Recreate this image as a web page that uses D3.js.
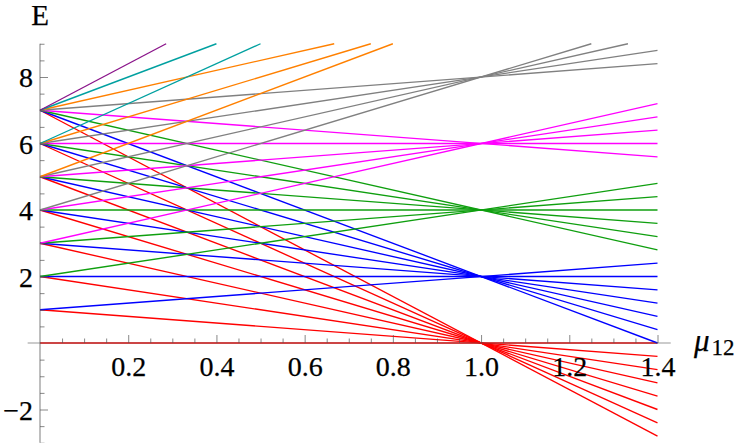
<!DOCTYPE html>
<html>
<head>
<meta charset="utf-8">
<script src="https://cdn.jsdelivr.net/npm/d3@7"></script>
<style>
  body { margin: 0; background: #fff; }
  svg text { font-family: "Liberation Serif", "DejaVu Serif", serif; fill: #000; }
</style>
</head>
<body>
<svg class="levels" width="748" height="443"></svg>
<script>
// Energy levels E against mu12: straight lines leaving integer levels at mu12 = 0,
// grouped by colour according to the node they meet at mu12 = 1.

// value of E at mu12 = 0 for each line, per colour group
var redStart = [0, 1, 2, 3, 4, 5, 6, 7],
    blueStart = [1, 2, 3, 4, 5, 6, 7],
    greenStart = [2, 3, 4, 5, 6, 7],
    magentaStart = [3, 4, 5, 6, 7],
    grayStart = [4, 5, 6, 7],
    orangeStart = [5, 6, 7],
    cyanStart = [6, 7],
    purpleStart = [7];

// where each line stops: mu12 of the end point and E there (top ones leave the frame at E = 9)
var redEndMu = [1.4, 1.4, 1.4, 1.4, 1.4, 1.4, 1.4, 1.4],
    redEndE = [0, -0.4, -0.8, -1.2, -1.6, -2.0, -2.4, -2.8];
var blueEndMu = [1.4, 1.4, 1.4, 1.4, 1.4, 1.4, 1.4],
    blueEndE = [2.4, 2.0, 1.6, 1.2, 0.8, 0.4, 0];
var greenEndMu = [1.4, 1.4, 1.4, 1.4, 1.4, 1.4],
    greenEndE = [4.8, 4.4, 4.0, 3.6, 3.2, 2.8];
var magentaEndMu = [1.4, 1.4, 1.4, 1.4, 1.4],
    magentaEndE = [7.2, 6.8, 6.4, 6.0, 5.6];
var grayEndMu = [1.25, 1.333, 1.4, 1.4],
    grayEndE = [9, 9, 8.8, 8.4];
var orangeEndMu = [0.8, 0.75, 0.667],
    orangeEndE = [9, 9, 9];
var cyanEndMu = [0.5, 0.4],
    cyanEndE = [9, 9];
var purpleEndMu = [0.286],
    purpleEndE = [9];

// tick labels
var xTickLabels = [0.2, 0.4, 0.6, 0.8, 1.0, 1.2, 1.4],
    yTickLabels = [-2, 2, 4, 6, 8];

//Colors
var colorRed = "#ff0000",
    colorBlue = "#0000ff",
    colorGreen = "#0f9f0f",
    colorMagenta = "#ff00ff",
    colorGray = "#808080",
    colorOrange = "#ff8000",
    colorCyan = "#00a0a0",
    colorPurple = "#8a148a",
    axisColor = "#555";

var groups = [
    {color: colorRed, start: redStart, endMu: redEndMu, endE: redEndE},
    {color: colorBlue, start: blueStart, endMu: blueEndMu, endE: blueEndE},
    {color: colorGreen, start: greenStart, endMu: greenEndMu, endE: greenEndE},
    {color: colorMagenta, start: magentaStart, endMu: magentaEndMu, endE: magentaEndE},
    {color: colorGray, start: grayStart, endMu: grayEndMu, endE: grayEndE},
    {color: colorOrange, start: orangeStart, endMu: orangeEndMu, endE: orangeEndE},
    {color: colorCyan, start: cyanStart, endMu: cyanEndMu, endE: cyanEndE},
    {color: colorPurple, start: purpleStart, endMu: purpleEndMu, endE: purpleEndE}
];

var svg = d3.select("svg.levels");

var x = d3.scaleLinear().domain([0, 1.4]).range([40, 657.5]);
var y = d3.scaleLinear().domain([-3, 9]).range([442.75, 43.75]);

var line = d3.line()
    .x(function(d) { return x(d[0]); })
    .y(function(d) { return y(d[1]); });

// the lines, one path per level
groups.forEach(function(g) {
    var segs = g.start.map(function(s, i) { return [[0, s], [g.endMu[i], g.endE[i]]]; });
    svg.append("g")
        .selectAll("path")
        .data(segs)
        .enter()
        .append("path")
        .attr("d", line)
        .attr("fill", "none")
        .attr("stroke", g.color)
        .attr("stroke-width", 1.35);
});

// minor tick positions
var xMinor = d3.range(1, 29).map(function(i) { return i * 0.05; })
    .filter(function(v) { return Math.abs(v * 5 - Math.round(v * 5)) > 1e-6; });
var yMinor = d3.range(-6, 19).map(function(i) { return i * 0.5; })
    .filter(function(v) { return v !== 0 && yTickLabels.indexOf(v) < 0; });

// x axis (ticks pointing up, crossing at E = 0)
var xAxisG = svg.append("g").attr("transform", "translate(0," + y(0) + ")");
xAxisG.append("g")
    .call(d3.axisBottom(x).tickValues(xMinor).tickSizeInner(-4.5).tickSizeOuter(0).tickFormat(""));
xAxisG.append("g")
    .call(d3.axisBottom(x).tickValues(xTickLabels).tickSizeInner(-8).tickSizeOuter(0)
        .tickPadding(13).tickFormat(d3.format(".1f")));

// y axis (ticks pointing right, crossing at mu12 = 0)
var yAxisG = svg.append("g").attr("transform", "translate(" + x(0) + ",0)");
yAxisG.append("g")
    .call(d3.axisLeft(y).tickValues(yMinor).tickSizeInner(-4.5).tickSizeOuter(0).tickFormat(""));
yAxisG.append("g")
    .call(d3.axisLeft(y).tickValues(yTickLabels).tickSizeInner(-8).tickSizeOuter(0)
        .tickPadding(7).tickFormat(function(d) { return d < 0 ? "\u2212" + (-d) : d; }));

svg.selectAll(".domain").remove();
svg.selectAll(".tick line").attr("stroke", axisColor).attr("stroke-opacity", 0.7);
svg.selectAll(".tick text")
    .attr("font-family", "Liberation Serif")
    .attr("font-size", 28)
    .attr("fill", "#000")
    .attr("stroke", "#000")
    .attr("stroke-width", 0.25);
yAxisG.selectAll(".tick text").attr("dy", "0.34em");

// axis lines, drawn over the curves like the original
svg.append("line")
    .attr("x1", x(-0.028)).attr("x2", x(1.43))
    .attr("y1", y(0)).attr("y2", y(0))
    .attr("stroke", axisColor).attr("stroke-opacity", 0.6).attr("stroke-width", 1.1);
svg.append("line")
    .attr("x1", x(0)).attr("x2", x(0))
    .attr("y1", y(-3)).attr("y2", y(9))
    .attr("stroke", axisColor).attr("stroke-opacity", 0.7).attr("stroke-width", 1.1);

// axis titles
svg.append("text")
    .attr("x", x(0)).attr("y", 25)
    .attr("text-anchor", "middle")
    .attr("font-size", 29)
    .attr("stroke", "#000").attr("stroke-width", 0.25)
    .text("E");

var muLabel = svg.append("text")
    .attr("x", 694).attr("y", 351)
    .attr("font-size", 31)
    .attr("stroke", "#000").attr("stroke-width", 0.25);
muLabel.append("tspan").attr("font-style", "italic").text("\u03bc");
muLabel.append("tspan").attr("font-size", 23).attr("dy", 4).attr("dx", 2).text("12");
</script>
</body>
</html>
